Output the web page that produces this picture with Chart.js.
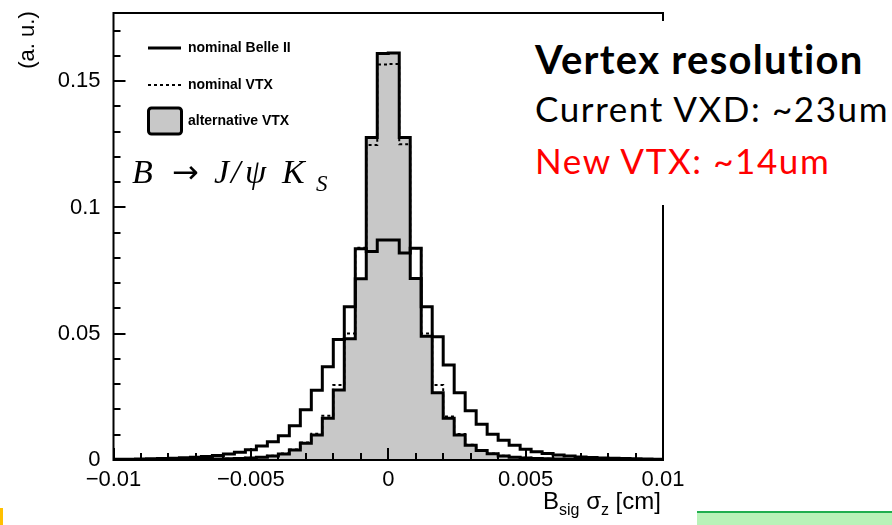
<!DOCTYPE html>
<html>
  <head>
    <style>
      body {
        margin: 0;
        background: #fff;
      }
      .wrap {
        position: relative;
        width: 892px;
        height: 525px;
        overflow: hidden;
      }
      #sigmaChart {
        position: absolute;
        left: 0;
        top: 0;
      }
      .note {
        position: absolute;
        left: 522px;
        top: 21px;
        width: 370px;
        height: 184px;
        background: #fff;
        font-family: Lato, sans-serif;
      }
      .note div {
        position: absolute;
        left: 13px;
        line-height: 1;
        white-space: nowrap;
      }
      .note .head {
        top: 18px;
        font-size: 40px;
        font-weight: bold;
        letter-spacing: 1.3px;
        color: #000;
      }
      .note .cur {
        top: 70px;
        font-size: 35px;
        letter-spacing: 1.6px;
        color: #000;
      }
      .note .new {
        top: 122px;
        font-size: 35px;
        letter-spacing: 1.6px;
        color: #ff0000;
      }
      .strip-green {
        position: absolute;
        left: 697px;
        top: 511px;
        width: 195px;
        height: 14px;
        background: #b8f2b8;
        border-top: 2px solid #1fae4f;
      }
      .strip-yellow {
        position: absolute;
        left: 0;
        top: 508px;
        width: 3px;
        height: 17px;
        background: #ffc000;
      }
    </style>
    <script src="https://cdn.jsdelivr.net/npm/chart.js"></script>
  </head>
  <body>
    <div class="wrap">
      <canvas id="sigmaChart" width="892" height="525"></canvas>
      <div class="note">
        <div class="head">Vertex resolution</div>
        <div class="cur">Current VXD: ~23um</div>
        <div class="new">New VTX: ~14um</div>
      </div>
      <div class="strip-yellow"></div>
      <div class="strip-green"></div>
    </div>
    <script>
      // histogram range: 50 bins between -0.01 and 0.01 cm
      var xMin = -0.01;
      var xMax = 0.01;
      var binWidth = 0.0004;

      var belleII = [
        0.0003, 0.0003, 0.0004, 0.0005, 0.0006, 0.0007, 0.0009, 0.0011, 0.0014, 0.0018,
        0.0024, 0.0031, 0.0041, 0.0055, 0.0072, 0.0096, 0.0136, 0.0199, 0.0276, 0.0369,
        0.0477, 0.0607, 0.0836, 0.0826, 0.0871, 0.0871, 0.0820, 0.0838, 0.0607, 0.0488,
        0.0376, 0.0266, 0.0195, 0.0142, 0.0102, 0.0078, 0.0058, 0.0043, 0.0033, 0.0026,
        0.0020, 0.0016, 0.0012, 0.0010, 0.0008, 0.0007, 0.0006, 0.0005, 0.0004, 0.0003
      ];

      var nominalVTX = [
        0.0001, 0.0001, 0.0001, 0.0002, 0.0002, 0.0002, 0.0003, 0.0003, 0.0004, 0.0004,
        0.0005, 0.0007, 0.0009, 0.0012, 0.0017, 0.0026, 0.0042, 0.0069, 0.0104, 0.0175,
        0.0297, 0.0501, 0.0840, 0.1247, 0.1566, 0.1568, 0.1250, 0.0838, 0.0501, 0.0297,
        0.0172, 0.0103, 0.0060, 0.0040, 0.0026, 0.0017, 0.0012, 0.0009, 0.0007, 0.0005,
        0.0004, 0.0003, 0.0003, 0.0002, 0.0002, 0.0002, 0.0001, 0.0001, 0.0001, 0.0001
      ];

      var alternativeVTX = [
        0.0001, 0.0001, 0.0001, 0.0001, 0.0002, 0.0002, 0.0002, 0.0003, 0.0003, 0.0004,
        0.0005, 0.0006, 0.0008, 0.0011, 0.0016, 0.0024, 0.0040, 0.0066, 0.0099, 0.0165,
        0.0277, 0.0480, 0.0718, 0.1277, 0.1610, 0.1612, 0.1277, 0.0719, 0.0490, 0.0266,
        0.0165, 0.0099, 0.0058, 0.0038, 0.0025, 0.0016, 0.0011, 0.0008, 0.0006, 0.0005,
        0.0004, 0.0003, 0.0003, 0.0002, 0.0002, 0.0002, 0.0001, 0.0001, 0.0001, 0.0001
      ];

      var legendNames = ['nominal Belle II', 'nominal VTX', 'alternative VTX'];
      var yTickValues = [0, 0.05, 0.1, 0.15];
      var xTickValues = [-0.01, -0.005, 0, 0.005, 0.01];
      var fillGrey = '#c8c8c8';

      // turn bin contents into outline points (left edge of every bin, closed at both ends)
      function toSteps(values) {
        var pts = [{ x: xMin, y: 0 }];
        values.forEach(function(v, i) {
          pts.push({ x: xMin + i * binWidth, y: v });
        });
        pts.push({ x: xMax, y: values[values.length - 1] });
        pts.push({ x: xMax, y: 0 });
        return pts;
      }

      function fmt(v) {
        var s = String(Math.round(v * 1000) / 1000);
        return s.replace('-', '\u2212');
      }

      var rootStyle = {
        id: 'rootStyle',
        afterDatasetsDraw: function(chart) {
          var ctx = chart.ctx;
          var area = chart.chartArea;
          var xs = chart.scales.x;
          var ys = chart.scales.y;
          var i, v, px, len;

          ctx.save();
          ctx.strokeStyle = '#000';
          ctx.fillStyle = '#000';

          // frame
          ctx.lineWidth = 2;
          ctx.strokeRect(area.left, area.top, area.right - area.left, area.bottom - area.top);

          // ticks point inwards, major every 0.05 / 0.005
          ctx.lineWidth = 2;
          ctx.beginPath();
          for (i = 0; i <= 17; i++) {
            v = i * 0.01;
            px = Math.round(ys.getPixelForValue(v));
            len = (i % 5 === 0) ? 12 : 7;
            ctx.moveTo(area.left, px);
            ctx.lineTo(area.left + len, px);
          }
          for (i = 0; i <= 20; i++) {
            v = xMin + i * 0.001;
            px = Math.round(xs.getPixelForValue(v));
            len = (i % 5 === 0) ? 12 : 7;
            ctx.moveTo(px, area.bottom);
            ctx.lineTo(px, area.bottom - len);
          }
          ctx.stroke();

          // legend
          var lx0 = 148, lx1 = 181;
          ctx.lineWidth = 3;
          ctx.beginPath();
          ctx.moveTo(lx0, 48);
          ctx.lineTo(lx1, 48);
          ctx.stroke();
          ctx.lineWidth = 2;
          ctx.setLineDash([3, 3]);
          ctx.beginPath();
          ctx.moveTo(lx0, 85);
          ctx.lineTo(lx1, 85);
          ctx.stroke();
          ctx.setLineDash([]);
          ctx.lineWidth = 3;
          ctx.fillStyle = fillGrey;
          ctx.beginPath();
          ctx.roundRect(lx0 + 0.5, 108, 33, 26, 3);
          ctx.fill();
          ctx.stroke();

          ctx.fillStyle = '#000';
          ctx.font = 'bold 14px "Liberation Sans", Arial, sans-serif';
          ctx.textBaseline = 'middle';
          ctx.textAlign = 'left';
          ctx.fillText(legendNames[0], 188, 48);
          ctx.fillText(legendNames[1], 188, 85);
          ctx.fillText(legendNames[2], 188, 121);

          // decay channel, glyph by glyph like the equation editor lays it out
          ctx.textBaseline = 'alphabetic';
          var serifIt = 'italic 34px "Liberation Serif", serif';
          var glyphs = [
            ['B', 132, 183, serifIt],
            ['\u2192', 172, 183, '32px "DejaVu Sans", sans-serif'],
            ['J', 214, 183, serifIt],
            ['/', 231, 183, serifIt],
            ['\u03c8', 245, 183, serifIt],
            ['K', 282, 183, serifIt],
            ['S', 316, 191, 'italic 23px "Liberation Serif", serif']
          ];
          glyphs.forEach(function(g) {
            ctx.font = g[3];
            ctx.fillText(g[0], g[1], g[2]);
          });

          // axis titles
          ctx.font = '22px "Liberation Sans", Arial, sans-serif';
          ctx.save();
          ctx.translate(28, 40);
          ctx.rotate(-Math.PI / 2);
          ctx.textAlign = 'center';
          ctx.textBaseline = 'middle';
          ctx.fillText('(a. u.)', 0, 0);
          ctx.restore();

          var parts = [
            ['B', 24, 0], ['sig', 16, 6], [' \u03c3', 24, 0], ['z', 16, 6], [' [cm]', 24, 0]
          ];
          var cx = 543;
          parts.forEach(function(p) {
            ctx.font = p[1] + 'px "Liberation Sans", Arial, sans-serif';
            ctx.fillText(p[0], cx, 509 + p[2]);
            cx += ctx.measureText(p[0]).width;
          });

          ctx.restore();
        }
      };

      Chart.defaults.font.family = '"Liberation Sans", Arial, sans-serif';
      Chart.defaults.color = '#000';

      var ctx = document.getElementById('sigmaChart').getContext('2d');
      var sigmaChart = new Chart(ctx, {
        type: 'line',
        data: {
          datasets: [{
            label: legendNames[0],
            data: toSteps(belleII),
            borderColor: '#000',
            borderWidth: 3,
            fill: false,
            order: 0
          }, {
            label: legendNames[1],
            data: toSteps(nominalVTX),
            borderColor: '#000',
            borderWidth: 2,
            borderDash: [3, 3],
            fill: false,
            order: 1
          }, {
            label: legendNames[2],
            data: toSteps(alternativeVTX),
            borderColor: '#000',
            borderWidth: 3,
            backgroundColor: fillGrey,
            fill: 'origin',
            order: 2
          }]
        },
        options: {
          responsive: false,
          animation: false,
          layout: {
            padding: { top: 13, right: 229, bottom: 0, left: 0 }
          },
          elements: {
            point: { radius: 0 },
            line: { stepped: 'before', tension: 0 }
          },
          plugins: {
            legend: { display: false },
            tooltip: { enabled: false }
          },
          scales: {
            x: {
              type: 'linear',
              min: xMin,
              max: xMax,
              grid: { display: false, drawTicks: false },
              border: { display: false },
              afterBuildTicks: function(scale) {
                scale.ticks = xTickValues.map(function(v) { return { value: v }; });
              },
              afterFit: function(scale) {
                scale.height = 65;
                scale.paddingLeft = 0;
                scale.paddingRight = 0;
              },
              ticks: {
                padding: 7,
                maxRotation: 0,
                autoSkip: false,
                font: { size: 22 },
                callback: fmt
              }
            },
            y: {
              min: 0,
              max: 0.177,
              grid: { display: false, drawTicks: false },
              border: { display: false },
              afterBuildTicks: function(scale) {
                scale.ticks = yTickValues.map(function(v) { return { value: v }; });
              },
              afterFit: function(scale) {
                scale.width = 113.5;
                scale.paddingTop = 0;
                scale.paddingBottom = 0;
              },
              ticks: {
                padding: 13,
                font: { size: 22 },
                callback: fmt
              }
            }
          }
        },
        plugins: [rootStyle]
      });
    </script>
  </body>
</html>
